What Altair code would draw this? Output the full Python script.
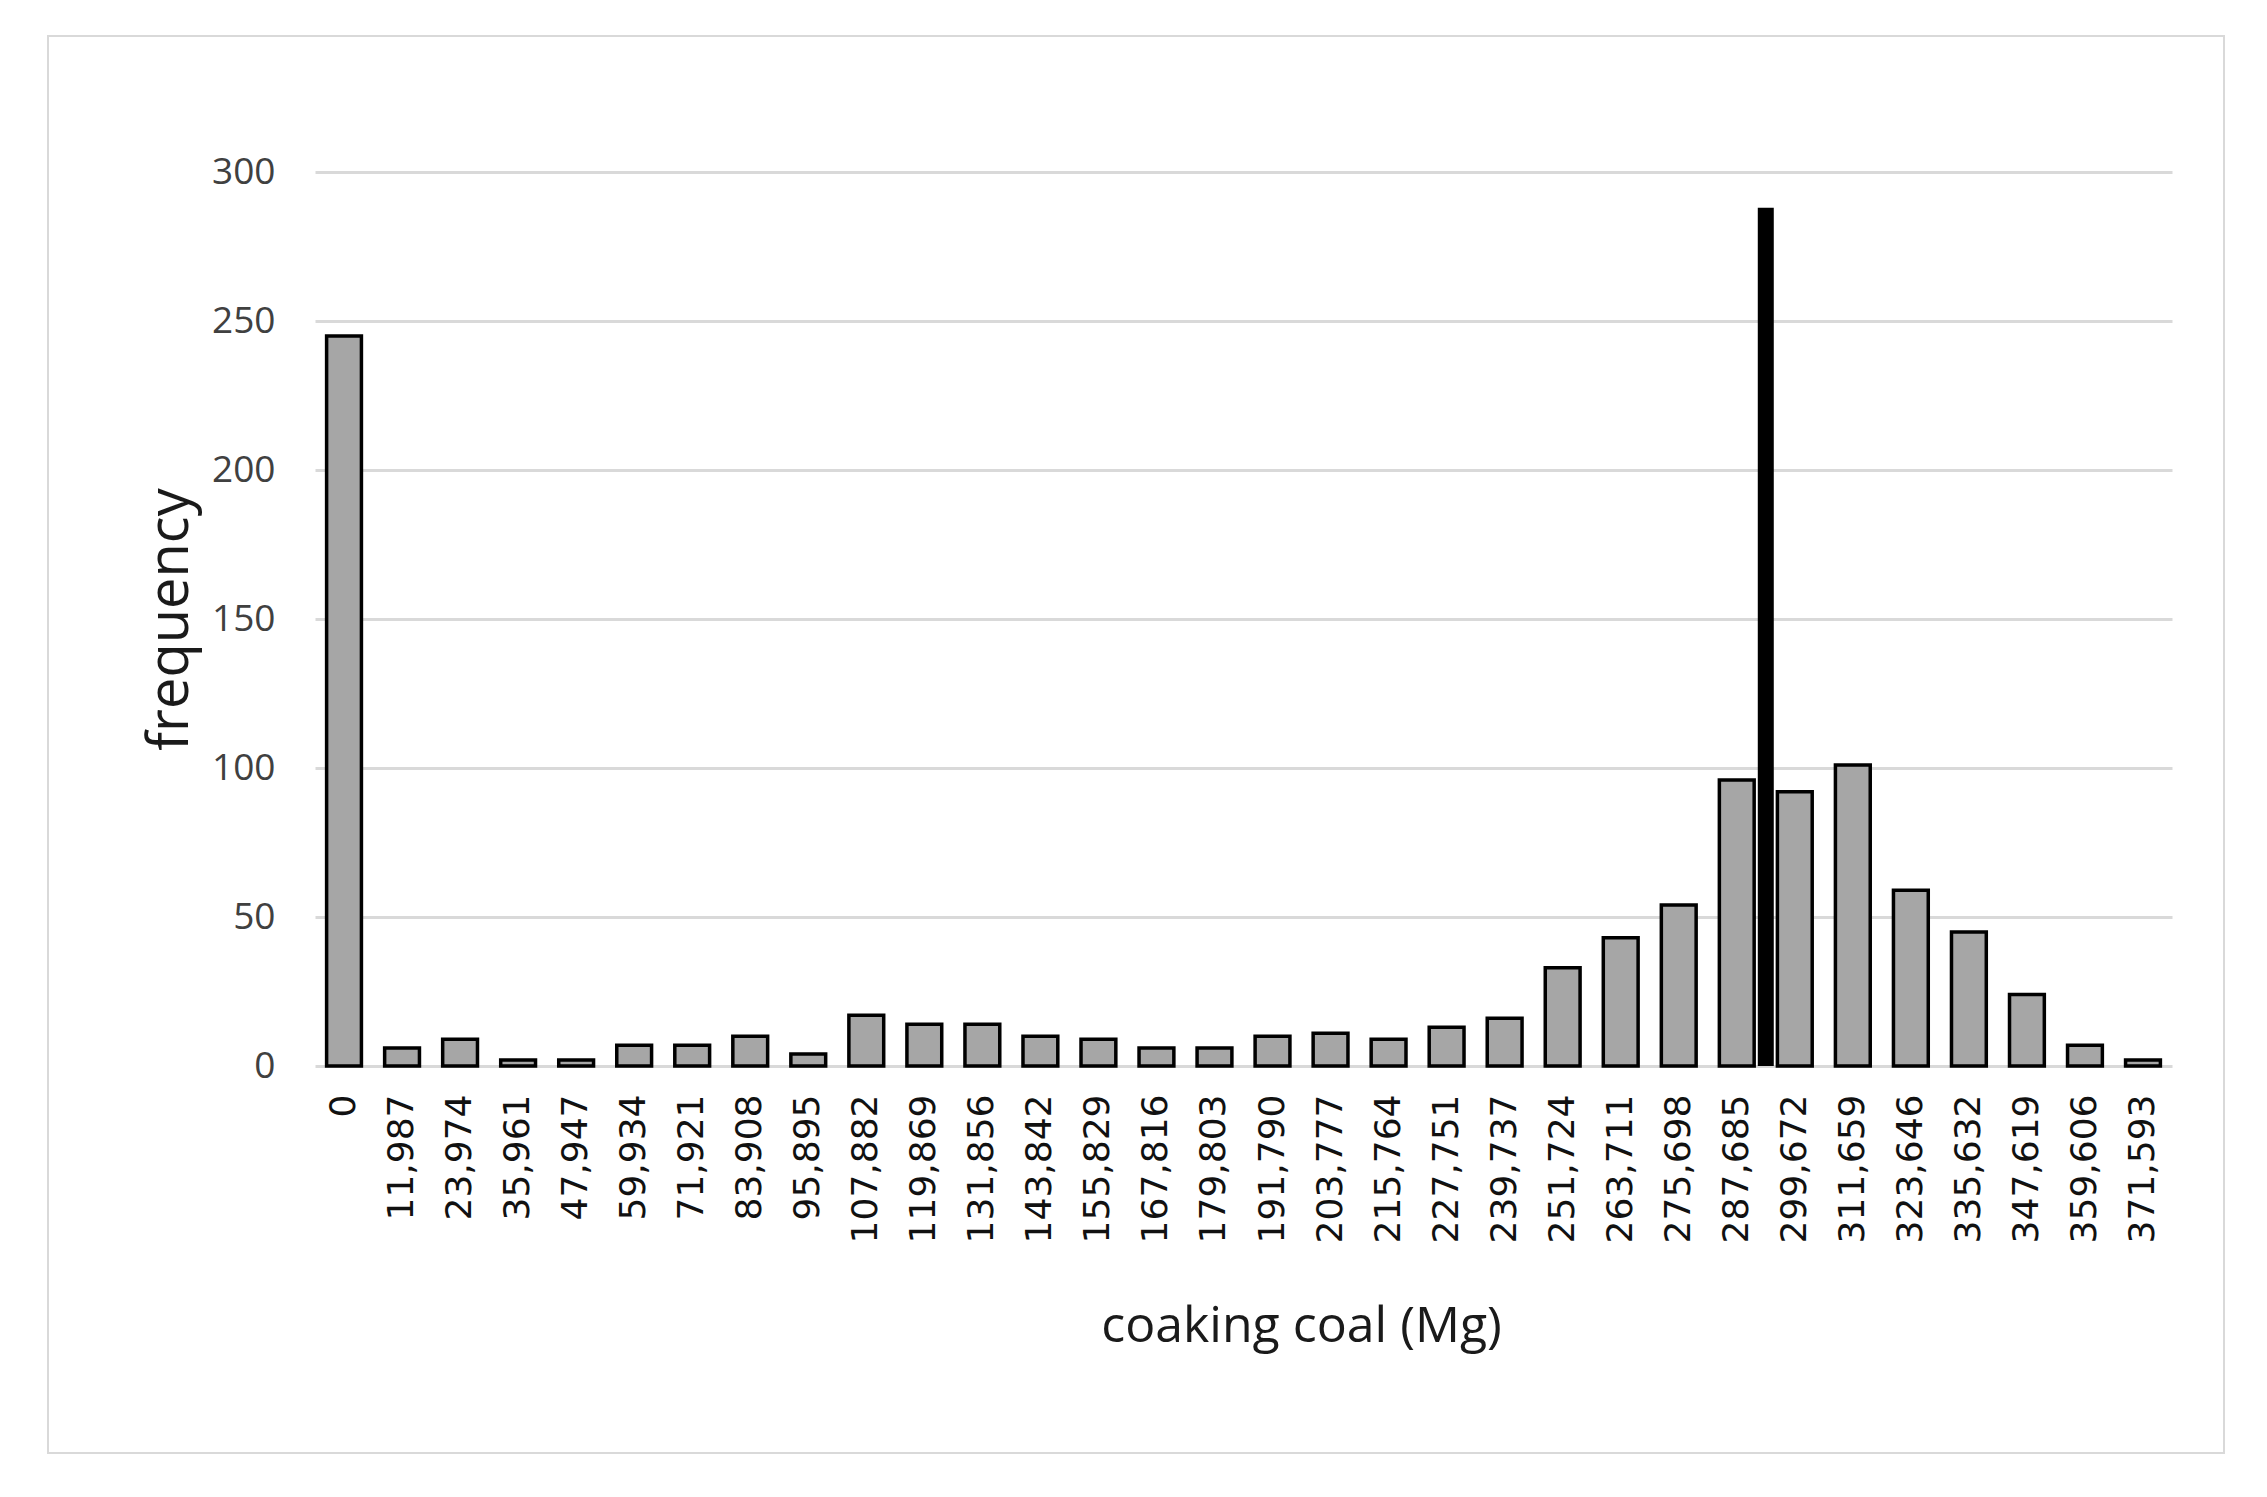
import altair as alt
import pandas as pd

categories = ["0", "11,987", "23,974", "35,961", "47,947", "59,934", "71,921",
              "83,908", "95,895", "107,882", "119,869", "131,856", "143,842",
              "155,829", "167,816", "179,803", "191,790", "203,777", "215,764",
              "227,751", "239,737", "251,724", "263,711", "275,698", "287,685",
              "299,672", "311,659", "323,646", "335,632", "347,619", "359,606",
              "371,593"]
frequency = [245, 6, 9, 2, 2, 7, 7, 10, 4, 17, 14, 14, 10, 9, 6, 6, 10, 11, 9,
             13, 16, 33, 43, 54, 96, 92, 101, 59, 45, 24, 7, 2]

marker_after = ["287,685"]
marker_value = [288]

y_ticks = [0, 50, 100, 150, 200, 250, 300]

df = pd.DataFrame({"bin": categories, "frequency": frequency})
marker = pd.DataFrame({"bin": marker_after, "frequency": marker_value})
frame = pd.DataFrame({"k": [0]})

W, H = 1857, 894
PI, PO = 0.4, 0.2
step = W / (len(categories) - PI + 2 * PO)

xscale = alt.Scale(domain=categories, paddingInner=PI, paddingOuter=PO)
yscale = alt.Scale(domain=[0, 300])

x_axis = alt.Axis(
    domain=False, ticks=False, grid=False, labelAngle=270,
    labelFont="DejaVu Sans", labelFontSize=36, labelColor="#111111",
    labelPadding=28, title="coaking coal (Mg)", titleFont="Open Sans",
    titleFontSize=50, titleFontWeight="normal", titleColor="#1a1a1a",
    titleX=986, titleY=260, titleAlign="center", titleBaseline="middle",
)
y_axis = alt.Axis(
    values=y_ticks, domain=False, ticks=False, grid=True,
    gridColor="#d9d9d9", gridWidth=3,
    labelFont="Open Sans", labelFontSize=37,
    labelColor="#404040", labelPadding=40,
    title="frequency", titleFont="Open Sans", titleFontSize=56,
    titleFontWeight="normal", titleColor="#1a1a1a", titleAngle=270,
    titleX=-145, titleY=H / 2, titleAlign="center", titleBaseline="middle",
)

border = alt.Chart(frame).mark_rect(
    fill="transparent", stroke="#d9d9d9", strokeWidth=2
).encode(
    x=alt.value(-267), x2=alt.value(1909), y=alt.value(-136), y2=alt.value(1281)
)

bars = alt.Chart(df).mark_bar(
    fill="#a6a6a6", stroke="black", strokeWidth=3.5
).encode(
    x=alt.X("bin:N", sort=categories, scale=xscale, axis=x_axis),
    y=alt.Y("frequency:Q", scale=yscale, axis=y_axis),
)

rule = alt.Chart(marker).mark_rule(
    color="black", strokeWidth=16, strokeCap="butt", xOffset=step * PI / 2
).encode(
    x=alt.X("bin:N", sort=categories, scale=xscale, bandPosition=1),
    y=alt.Y("frequency:Q", scale=yscale),
    y2=alt.datum(0),
)

chart = alt.layer(border, bars, rule).properties(
    width=W, height=H,
    autosize=alt.AutoSizeParams(type="none"),
    padding={"left": 307, "top": 164, "right": 60, "bottom": 400},
    background="white",
).configure_view(strokeWidth=0)

chart.save("out.html", embed_options={"renderer": "svg", "actions": False})
